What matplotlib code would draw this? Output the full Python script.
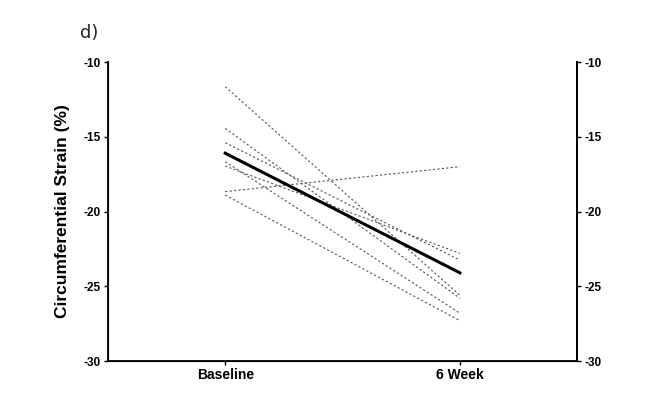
import matplotlib.pyplot as plt

# individual subjects, strain (%) at baseline and at 6 weeks
baseline = [-11.65, -14.44, -15.4, -16.67, -16.96, -18.67, -18.9]
week6 = [-25.6, -25.8, -23.25, -26.8, -22.8, -17.0, -27.3]
mean_vals = [-16.1, -24.1]
xlabels = ['Baseline', '6 Week']
yticks = [-10, -15, -20, -25, -30]

plt.rcParams['font.family'] = ['Liberation Sans', 'DejaVu Sans']

fig = plt.figure(figsize=(6.5, 3.95), dpi=100)
ax = fig.add_axes([0.166, 0.086, 0.722, 0.757])

for b, w in zip(baseline, week6):
    ax.plot([0, 1], [b, w], color='#555555', lw=0.8, ls=(0, (2, 2)))
ax.plot([0, 1], mean_vals, color='black', lw=2.2)

ax.set_xlim(-0.5, 1.5)
ax.set_ylim(-30, -10)
ax.set_xticks([0, 1])
ax.set_xticklabels(xlabels, fontsize=10, fontweight='bold')
ax.set_yticks(yticks)
ax.set_yticklabels([str(t) for t in yticks], fontsize=8.5, fontweight='bold')
ax.tick_params(direction='out', length=3, width=1, pad=2)
ax.spines['top'].set_visible(False)
for s in ['left', 'right', 'bottom']:
    ax.spines[s].set_linewidth(1.3)

ax2 = ax.twinx()
ax2.set_ylim(-30, -10)
ax2.set_yticks(yticks)
ax2.set_yticklabels([str(t) for t in yticks], fontsize=8.5, fontweight='bold')
ax2.tick_params(direction='out', length=3, width=1, pad=2)
ax2.spines['top'].set_visible(False)
ax2.spines['right'].set_linewidth(1.3)

ax.set_ylabel('Circumferential Strain (%)', fontsize=12.5, fontweight='bold', labelpad=10)

fig.text(0.123, 0.905, 'd)', fontsize=13, family='DejaVu Sans', color='#222222')

fig.savefig('out.png', dpi=100)
